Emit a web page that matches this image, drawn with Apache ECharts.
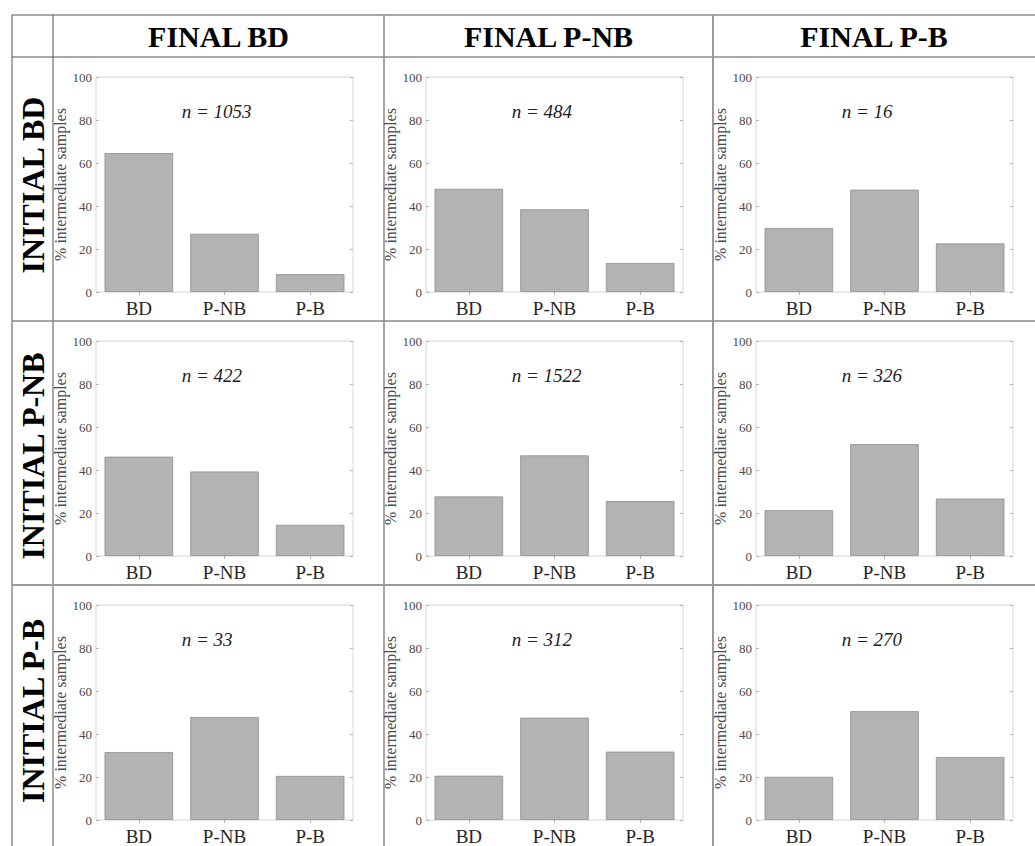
<!DOCTYPE html>
<html>
<head>
<meta charset="utf-8">
<script src="https://cdn.jsdelivr.net/npm/echarts@6/dist/echarts.min.js"></script>
<style>
  html, body { margin: 0; padding: 0; background: #fff; }
  #chart { width: 1035px; height: 846px; }
</style>
</head>
<body>
<div id="chart"></div>
<script>
// Outcome categories on every x axis
const categories = ['BD', 'P-NB', 'P-B'];
// Column headers (final state) and row headers (initial state)
const finalLabels = ['FINAL BD', 'FINAL P-NB', 'FINAL P-B'];
const initialLabels = ['INITIAL BD', 'INITIAL P-NB', 'INITIAL P-B'];
// Y axis tick range
const yMin = 0, yMax = 100, yStep = 20;
const yAxisTitle = '% intermediate samples';

// Percentage of intermediate samples per outcome, one array per panel
const initBD_finalBD   = [64.6, 27.1, 8.3];
const initBD_finalPNB  = [48.0, 38.5, 13.5];
const initBD_finalPB   = [29.8, 47.6, 22.6];
const initPNB_finalBD  = [46.2, 39.3, 14.5];
const initPNB_finalPNB = [27.7, 46.8, 25.5];
const initPNB_finalPB  = [21.3, 52.0, 26.7];
const initPB_finalBD   = [31.6, 47.9, 20.5];
const initPB_finalPNB  = [20.6, 47.6, 31.8];
const initPB_finalPB   = [20.1, 50.6, 29.3];

// Sample counts per panel (rows: initial, columns: final)
const countsInitBD  = [1053, 484, 16];
const countsInitPNB = [422, 1522, 326];
const countsInitPB  = [33, 312, 270];

const panelValues = [
  [initBD_finalBD, initBD_finalPNB, initBD_finalPB],
  [initPNB_finalBD, initPNB_finalPNB, initPNB_finalPB],
  [initPB_finalBD, initPB_finalPNB, initPB_finalPB]
];
const panelCounts = [countsInitBD, countsInitPNB, countsInitPB];

// Layout of the 3x3 panel table
const SERIF = '"Liberation Serif", "Times New Roman", serif';
const colLeft = [96, 426, 756];
const rowTop = [77, 341, 605];
const plotW = 257, plotH = 215;
const colCenters = [218.5, 548.5, 874];
const rowCenters = [185, 456, 711];

const chart = echarts.init(document.getElementById('chart'), null, { renderer: 'svg' });

const grids = [], xAxes = [], yAxes = [], series = [];
for (let r = 0; r < 3; r++) {
  for (let c = 0; c < 3; c++) {
    const g = grids.length;
    grids.push({
      left: colLeft[c], top: rowTop[r], width: plotW, height: plotH,
      show: true, borderColor: '#d6d6d6', borderWidth: 1, backgroundColor: '#fff',
      containLabel: false, outerBoundsMode: 'none'
    });
    const tick = { show: true, inside: true, length: 3, alignWithLabel: true, lineStyle: { color: '#b5b5b5' } };
    // bottom category axis with labels
    xAxes.push({
      type: 'category', gridIndex: g, data: categories, position: 'bottom',
      axisLine: { show: false }, axisTick: tick,
      axisLabel: { color: '#262626', fontFamily: SERIF, fontSize: 19, margin: 7 }
    });
    // top axis carrying only the inward tick marks
    xAxes.push({
      type: 'category', gridIndex: g, data: categories, position: 'top',
      axisLine: { show: false }, axisTick: tick, axisLabel: { show: false }
    });
    const ytick = { show: true, inside: true, length: 3, lineStyle: { color: '#b5b5b5' } };
    yAxes.push({
      type: 'value', gridIndex: g, min: yMin, max: yMax, interval: yStep, position: 'left',
      axisLine: { show: false }, axisTick: ytick, splitLine: { show: false },
      axisLabel: { color: '#4a4a4a', fontFamily: SERIF, fontSize: 13, margin: 4 },
      name: yAxisTitle, nameLocation: 'middle', nameGap: 26, nameRotate: 90,
      nameTextStyle: { color: '#4a4a4a', fontFamily: SERIF, fontSize: 16 }
    });
    yAxes.push({
      type: 'value', gridIndex: g, min: yMin, max: yMax, interval: yStep, position: 'right',
      axisLine: { show: false }, axisTick: ytick, splitLine: { show: false },
      axisLabel: { show: false }
    });
    series.push({
      type: 'bar', xAxisIndex: 2 * g, yAxisIndex: 2 * g,
      data: panelValues[r][c], barCategoryGap: '20%',
      itemStyle: { color: '#b3b3b3', borderColor: '#8e8e8e', borderWidth: 0.8 },
      silent: true, animation: false
    });
  }
}

// Table rules
const lines = [];
function rule(x1, y1, x2, y2, color, w) {
  lines.push({ type: 'line', shape: { x1, y1, x2, y2 }, style: { stroke: color, lineWidth: w }, silent: true });
}
rule(12, 15, 1035, 15, '#555', 1);
rule(12, 57, 1035, 57, '#555', 1);
rule(12, 15, 12, 846, '#555', 1);
rule(53, 15, 53, 846, '#555', 1);
rule(384, 15, 384, 846, '#8a8a8a', 1.5);
rule(713, 15, 713, 846, '#9a9a9a', 2);
rule(12, 321, 1035, 321, '#8a8a8a', 1.5);
rule(12, 585, 1035, 585, '#9a9a9a', 2);

const headers = [];
finalLabels.forEach((t, i) => headers.push({
  type: 'text', x: colCenters[i], y: 36,
  style: { text: t, fill: '#000', font: 'bold 30px ' + SERIF, textAlign: 'center', textVerticalAlign: 'middle' }
}));
initialLabels.forEach((t, i) => headers.push({
  type: 'text', x: 33, y: rowCenters[i], rotation: Math.PI / 2,
  style: { text: t, fill: '#000', font: 'bold 32px ' + SERIF, textAlign: 'center', textVerticalAlign: 'middle' }
}));

chart.setOption({
  animation: false,
  backgroundColor: '#fff',
  grid: grids, xAxis: xAxes, yAxis: yAxes, series: series,
  graphic: lines.concat(headers)
});

// "n = ..." annotations, left-aligned at the boundary between the BD and P-NB bands, y = 84
const notes = [];
for (let r = 0; r < 3; r++) {
  for (let c = 0; c < 3; c++) {
    const g = r * 3 + c;
    const finder = { gridIndex: g, xAxisIndex: 2 * g, yAxisIndex: 2 * g };
    const p0 = chart.convertToPixel(finder, [categories[0], 84]);
    const p1 = chart.convertToPixel(finder, [categories[1], 84]);
    notes.push({
      type: 'text', x: (p0[0] + p1[0]) / 2, y: p0[1],
      style: { text: 'n = ' + panelCounts[r][c], fill: '#1e1e1e', font: 'italic 19px ' + SERIF,
               textAlign: 'left', textVerticalAlign: 'middle' }
    });
  }
}
chart.setOption({ graphic: lines.concat(headers, notes) });
</script>
</body>
</html>
